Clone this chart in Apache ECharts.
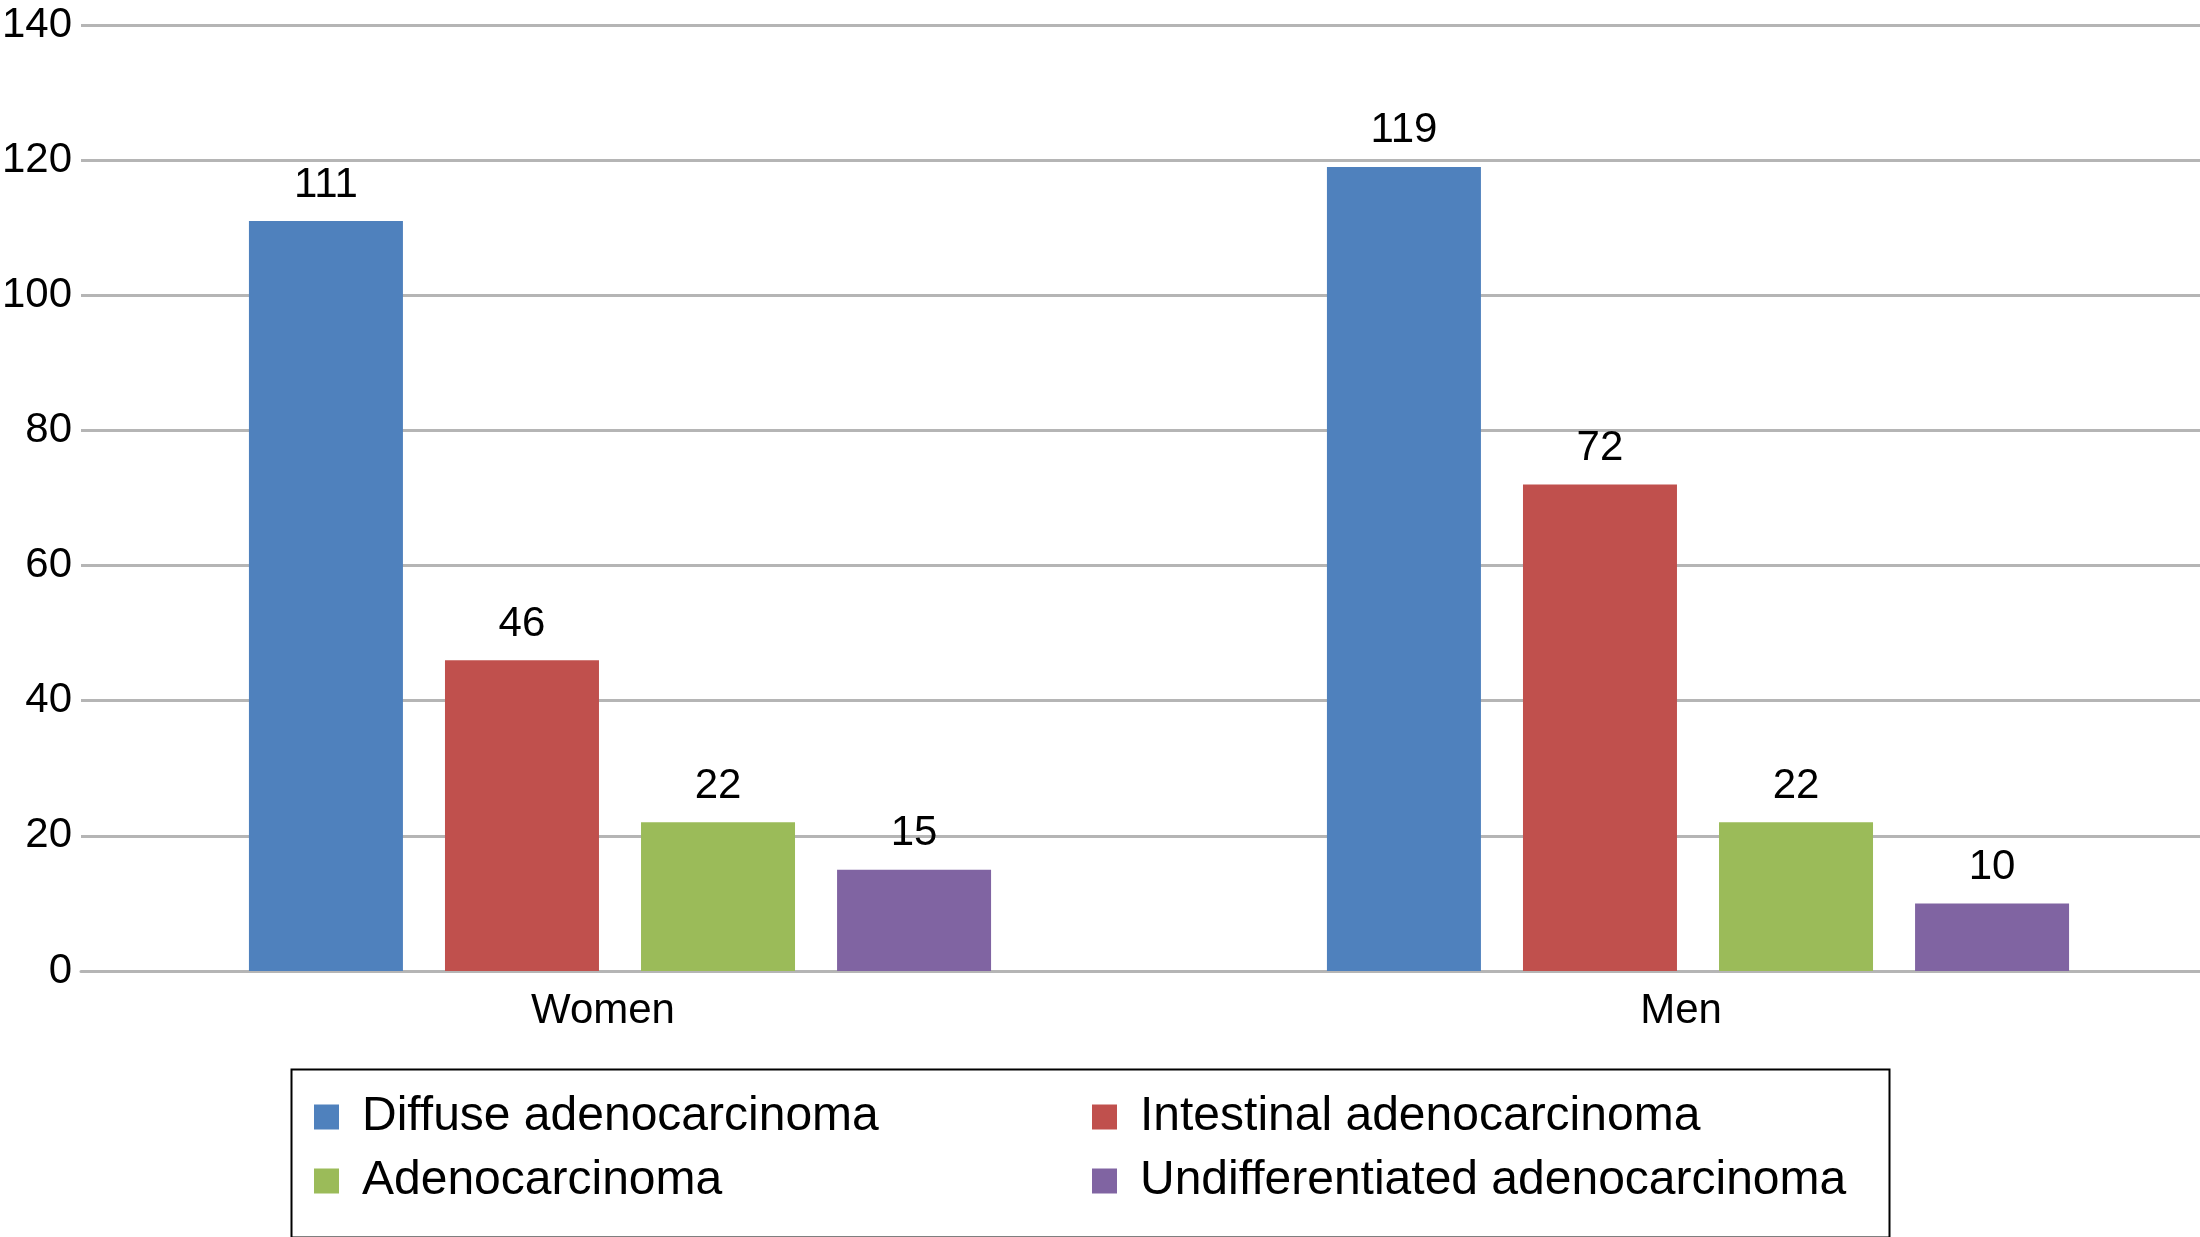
<!DOCTYPE html>
<html><head><meta charset="utf-8">
<script src="https://cdn.jsdelivr.net/npm/echarts@6/dist/echarts.min.js"></script>
<style>html,body{margin:0;padding:0;background:#fff}#c{width:2200px;height:1237px}</style>
</head><body><div id="c"></div>
<script>
const categories = ['Women', 'Men'];
const seriesNames = ['Diffuse adenocarcinoma', 'Intestinal adenocarcinoma', 'Adenocarcinoma', 'Undifferentiated adenocarcinoma'];
const diffuse = [111, 119];
const intestinal = [46, 72];
const adeno = [22, 22];
const undiff = [15, 10];
const colors = ['#4F81BD', '#C0504D', '#9BBB59', '#8064A2'];
const values = [diffuse, intestinal, adeno, undiff];
const FONT = '"Liberation Sans", Arial, sans-serif';

const chart = echarts.init(document.getElementById('c'));
const legendCommon = {
  orient: 'vertical', top: 1093, padding: 0, itemWidth: 25, itemHeight: 25, itemGap: 16,
  icon: 'rect', selectedMode: false,
  textStyle: { fontFamily: FONT, fontSize: 48, color: '#000', lineHeight: 48, padding: [0, 0, 0, 18] }
};
chart.setOption({
  animation: false,
  textStyle: { fontFamily: FONT },
  grid: { left: 81, right: -37, top: 25, bottom: 266, containLabel: false, outerBoundsMode: 'none' },
  legend: [
    Object.assign({ left: 314, data: [seriesNames[0], seriesNames[2]] }, legendCommon),
    Object.assign({ left: 1092, data: [seriesNames[1], seriesNames[3]] }, legendCommon)
  ],
  graphic: [{
    type: 'rect', left: 289, top: 1067, z: 100,
    shape: { width: 1598, height: 168 },
    style: { fill: 'none', stroke: '#000', lineWidth: 2 }
  }],
  xAxis: {
    type: 'category', data: categories,
    axisLine: { lineStyle: { color: '#b5b5b5', width: 3 } },
    axisTick: { show: false },
    axisLabel: { fontFamily: FONT, fontSize: 42, color: '#000', margin: 19, padding: [0, 34, 0, 0] }
  },
  yAxis: {
    type: 'value', min: 0, max: 140, interval: 20,
    axisLine: { show: false }, axisTick: { show: false },
    splitLine: { lineStyle: { color: '#b5b5b5', width: 3 } },
    axisLabel: { fontFamily: FONT, fontSize: 42, color: '#000', margin: 9 }
  },
  series: seriesNames.map((n, i) => ({
    name: n, type: 'bar', data: values[i], barWidth: 154, barGap: '27.3%',
    itemStyle: { color: colors[i] },
    label: { show: true, position: 'top', distance: 15, fontFamily: FONT, fontSize: 42, color: '#000' }
  }))
});
</script></body></html>
